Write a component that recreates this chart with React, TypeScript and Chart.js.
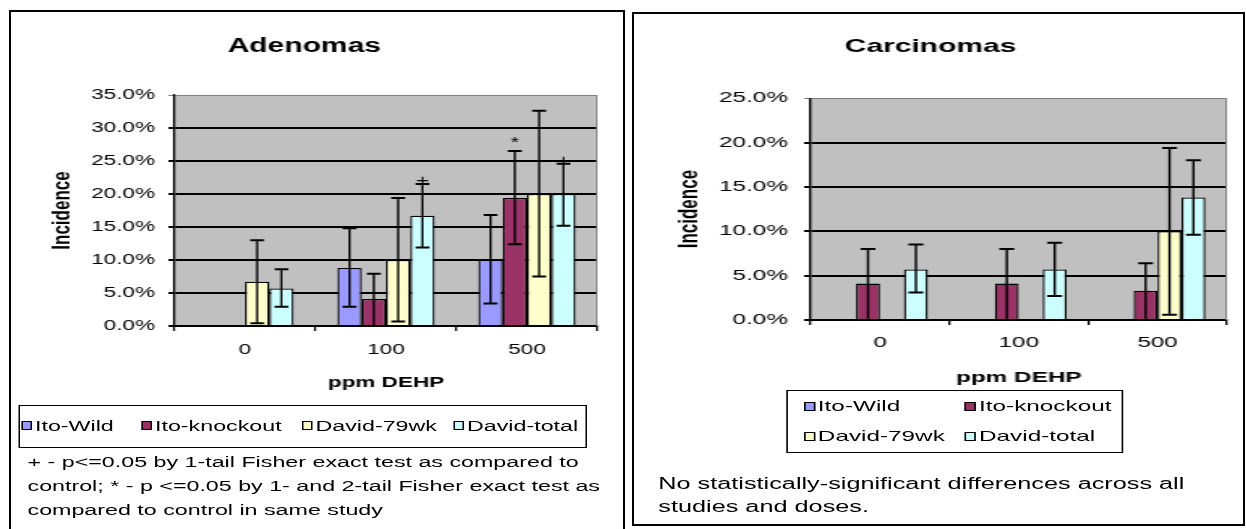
import React, { useEffect, useRef } from 'react';
import { Chart, registerables } from 'chart.js';

Chart.register(...registerables);

// ---------- data ----------
const categories = ['0', '100', '500'];
const seriesNames = ['Ito-Wild', 'Ito-knockout', 'David-79wk', 'David-total'];
const seriesColors = ['#9999FF', '#993366', '#FFFFCC', '#CCFFFF'];

// Adenomas incidence (%)
const adenomaItoWild = [null, 8.8, 10.0];
const adenomaItoKnockout = [null, 4.1, 19.4];
const adenomaDavid79 = [6.7, 10.0, 20.0];
const adenomaDavidTotal = [5.7, 16.7, 20.0];
const adenomaHigh = [
  [null, 14.8, 16.8],
  [null, 7.9, 26.5],
  [13.0, 19.4, 32.6],
  [8.6, 21.5, 24.6],
];
const adenomaLow = [
  [null, 2.9, 3.4],
  [null, 0.0, 12.4],
  [0.4, 0.7, 7.5],
  [2.9, 11.9, 15.2],
];
const adenomaMarks = [
  ['', '', ''],
  ['', '', '*'],
  ['', '', ''],
  ['', '+', '+'],
];
const adenomaTicks = { max: 35, step: 5 };

// Carcinomas incidence (%)
const carcinomaItoWild = [null, null, null];
const carcinomaItoKnockout = [4.1, 4.1, 3.3];
const carcinomaDavid79 = [null, null, 10.0];
const carcinomaDavidTotal = [5.7, 5.7, 13.8];
const carcinomaHigh = [
  [null, null, null],
  [8.0, 8.0, 6.4],
  [null, null, 19.4],
  [8.5, 8.7, 18.0],
];
const carcinomaLow = [
  [null, null, null],
  [0.0, 0.0, 0.0],
  [null, null, 0.6],
  [3.1, 2.7, 9.6],
];
const carcinomaMarks = [
  ['', '', ''],
  ['', '', ''],
  ['', '', ''],
  ['', '', ''],
];
const carcinomaTicks = { max: 25, step: 5 };

const adenomaNote = [
  '+ - p<=0.05 by 1-tail Fisher exact test as compared to',
  'control; * - p <=0.05 by 1- and 2-tail Fisher exact test as',
  'compared to control in same study',
];
const carcinomaNote = [
  'No statistically-significant differences across all',
  'studies and doses.',
];

// ---------- styling ----------
const FONT = '"Liberation Sans", Arial, sans-serif';
const SX_LEFT = 1.5;
const SX_RIGHT = 1.62;

const plotBgPlugin = {
  id: 'plotBg',
  beforeDraw(chart: any) {
    const { ctx, chartArea: a } = chart;
    ctx.save();
    ctx.fillStyle = '#C0C0C0';
    ctx.fillRect(a.left, a.top, a.right - a.left, a.bottom - a.top);
    ctx.restore();
  },
  beforeDatasetsDraw(chart: any) {
    const { ctx, chartArea: a } = chart;
    ctx.save();
    ctx.strokeStyle = '#808080';
    ctx.lineWidth = 1;
    ctx.beginPath();
    ctx.moveTo(a.right - 0.5, a.top);
    ctx.lineTo(a.right - 0.5, a.bottom);
    ctx.stroke();
    ctx.restore();
  },
};

const errorBarPlugin = {
  id: 'errorBars',
  afterDatasetsDraw(chart: any) {
    const { ctx } = chart;
    const ys = chart.scales.y;
    chart.data.datasets.forEach((ds: any, i: number) => {
      const meta = chart.getDatasetMeta(i);
      meta.data.forEach((bar: any, j: number) => {
        if (ds.data[j] == null || ds.errHigh[j] == null) return;
        const x = bar.x;
        const yh = ys.getPixelForValue(ds.errHigh[j]);
        const yl = ys.getPixelForValue(ds.errLow[j]);
        const hw = 4.6;
        ctx.save();
        ctx.strokeStyle = '#000';
        ctx.lineWidth = 1.4;
        ctx.beginPath();
        ctx.moveTo(x, yh);
        ctx.lineTo(x, yl);
        ctx.stroke();
        ctx.lineWidth = 2;
        ctx.beginPath();
        ctx.moveTo(x - hw, yh);
        ctx.lineTo(x + hw, yh);
        ctx.moveTo(x - hw, yl);
        ctx.lineTo(x + hw, yl);
        ctx.stroke();
        const m = ds.marks[j];
        if (m) {
          ctx.fillStyle = '#000';
          ctx.font = `15px ${FONT}`;
          ctx.textAlign = 'center';
          ctx.textBaseline = 'alphabetic';
          ctx.fillText(m, x, m === '*' ? yh - 4 : yh + 1);
        }
        ctx.restore();
      });
    });
  },
};

function makeConfig(p: any) {
  const yMax = p.ticks.max;
  return {
    type: 'bar',
    data: {
      labels: categories,
      datasets: seriesNames.map((name, i) => ({
        label: name,
        data: p.values[i],
        backgroundColor: seriesColors[i],
        borderColor: '#000',
        borderWidth: 1.3,
        categoryPercentage: 0.69,
        barPercentage: 1.0,
        errHigh: p.high[i],
        errLow: p.low[i],
        marks: p.marks[i],
      })),
    },
    options: {
      responsive: false,
      animation: false,
      events: [],
      layout: { padding: { left: 0, top: 0, right: p.rightPad, bottom: 0 } },
      plugins: {
        legend: { display: false },
        tooltip: { enabled: false },
        title: {
          display: true,
          text: p.title,
          color: '#000',
          font: { family: FONT, size: p.titleSize, weight: 'bold', lineHeight: 1.2 },
          padding: { top: p.titleTop, bottom: p.titleBottom },
        },
      },
      scales: {
        x: {
          grid: {
            offset: true,
            drawOnChartArea: false,
            drawTicks: true,
            tickLength: 5,
            color: '#000',
            lineWidth: 1.3,
          },
          border: { display: true, color: '#000', width: 2 },
          ticks: {
            color: '#000',
            font: { family: FONT, size: 15, lineHeight: 1.2 },
            padding: p.xTickPad,
            maxRotation: 0,
          },
          title: {
            display: true,
            text: 'ppm DEHP',
            color: '#000',
            font: { family: FONT, size: 15, weight: 'bold', lineHeight: 1.2 },
            padding: { top: 0, bottom: p.xTitleBottom },
          },
          afterFit: (s: any) => {
            s.height = p.xHeight;
          },
        },
        y: {
          min: 0,
          max: yMax,
          ticks: {
            stepSize: p.ticks.step,
            color: '#000',
            font: { family: FONT, size: 15, lineHeight: 1.2 },
            padding: p.yTickPad,
            callback: (v: any) => Number(v).toFixed(1) + '%',
          },
          grid: {
            color: (c: any) =>
              c.tick && c.tick.value >= yMax - 1e-9 ? '#808080' : '#000',
            lineWidth: (c: any) => (c.tick && c.tick.value >= yMax - 1e-9 ? 1 : 2),
            drawTicks: true,
            tickLength: p.yTickLen,
          },
          border: { display: true, color: '#000', width: 1.4 },
          title: {
            display: true,
            text: 'Incidence',
            color: '#000',
            font: { family: FONT, size: 17, weight: 'bold', lineHeight: 1.2 },
            padding: { top: p.yTitlePad, bottom: 0 },
          },
          afterFit: (s: any) => {
            s.width = p.yWidth;
          },
        },
      },
    },
    plugins: [plotBgPlugin, errorBarPlugin],
  };
}

function ChartBox({ config, width, height }: any) {
  const ref = useRef<HTMLCanvasElement>(null);
  useEffect(() => {
    const chart = new Chart(ref.current as HTMLCanvasElement, config);
    return () => chart.destroy();
  }, []);
  return (
    <canvas
      ref={ref}
      width={width}
      height={height}
      style={{ position: 'absolute', left: 0, top: 0, width, height, display: 'block' }}
    />
  );
}

function Marker({ color }: any) {
  return (
    <span
      style={{
        display: 'inline-block',
        width: 7,
        height: 9,
        boxSizing: 'border-box',
        border: '1px solid #000',
        background: color,
        marginRight: 2,
        verticalAlign: 'middle',
        position: 'relative',
        top: -1,
      }}
    />
  );
}

const adenomaConfig = makeConfig({
  title: 'Adenomas',
  values: [adenomaItoWild, adenomaItoKnockout, adenomaDavid79, adenomaDavidTotal],
  high: adenomaHigh,
  low: adenomaLow,
  marks: adenomaMarks,
  ticks: adenomaTicks,
  rightPad: 17,
  titleSize: 20,
  titleTop: 22,
  titleBottom: 37,
  yWidth: 109,
  yTitlePad: 24,
  yTickPad: 9,
  yTickLen: 4,
  xHeight: 75,
  xTickPad: 10,
  xTitleBottom: 9,
});

const carcinomaConfig = makeConfig({
  title: 'Carcinomas',
  values: [carcinomaItoWild, carcinomaItoKnockout, carcinomaDavid79, carcinomaDavidTotal],
  high: carcinomaHigh,
  low: carcinomaLow,
  marks: carcinomaMarks,
  ticks: carcinomaTicks,
  rightPad: 10,
  titleSize: 18.5,
  titleTop: 22,
  titleBottom: 40,
  yWidth: 109,
  yTitlePad: 24,
  yTickPad: 10,
  yTickLen: 4,
  xHeight: 70,
  xTickPad: 9,
  xTitleBottom: 3,
});

const textStyle: any = { fontFamily: FONT, fontSize: 15, color: '#000', whiteSpace: 'nowrap' };
const leftLegendPos = [1, 81, 188, 289];

export default function App() {
  return (
    <div
      style={{
        position: 'fixed',
        left: 0,
        top: 0,
        width: 1246,
        height: 529,
        background: '#fff',
        overflow: 'hidden',
      }}
    >
      {/* panel borders */}
      <div
        style={{
          position: 'absolute',
          left: 9,
          top: 10,
          width: 616,
          height: 540,
          border: '2px solid #000',
          boxSizing: 'border-box',
        }}
      />
      <div
        style={{
          position: 'absolute',
          left: 632,
          top: 12,
          width: 613,
          height: 514,
          border: '2px solid #000',
          boxSizing: 'border-box',
        }}
      />

      {/* left panel (stretched) */}
      <div
        style={{
          position: 'absolute',
          left: 11,
          top: 12,
          width: 408,
          height: 517,
          transform: `scaleX(${SX_LEFT})`,
          transformOrigin: '0 0',
        }}
      >
        <ChartBox config={adenomaConfig} width={408} height={389} />
        <div
          style={{
            position: 'absolute',
            left: 5,
            top: 393,
            width: 379,
            height: 43,
            border: '1px solid #000',
            boxSizing: 'border-box',
            ...textStyle,
            fontSize: 15.5,
          }}
        >
          {seriesNames.map((n, i) => (
            <div
              key={n}
              style={{ position: 'absolute', left: leftLegendPos[i], top: 10, lineHeight: '20px' }}
            >
              <Marker color={seriesColors[i]} />
              {n}
            </div>
          ))}
        </div>
        <div
          style={{
            position: 'absolute',
            left: 11,
            top: 438,
            lineHeight: '24px',
            ...textStyle,
            fontSize: 15.5,
          }}
        >
          {adenomaNote.map((l) => (
            <div key={l}>{l}</div>
          ))}
        </div>
      </div>

      {/* right panel (stretched) */}
      <div
        style={{
          position: 'absolute',
          left: 634,
          top: 14,
          width: 376,
          height: 510,
          transform: `scaleX(${SX_RIGHT})`,
          transformOrigin: '0 0',
        }}
      >
        <ChartBox config={carcinomaConfig} width={376} height={376} />
        <div
          style={{
            position: 'absolute',
            left: 94,
            top: 376,
            width: 208,
            height: 63,
            border: '1px solid #000',
            boxSizing: 'border-box',
            ...textStyle,
          }}
        >
          {seriesNames.map((n, i) => (
            <div
              key={n}
              style={{
                position: 'absolute',
                left: i % 2 === 0 ? 9.5 : 109,
                top: i < 2 ? 5 : 35,
                lineHeight: '20px',
              }}
            >
              <Marker color={seriesColors[i]} />
              {n}
            </div>
          ))}
        </div>
        <div
          style={{
            position: 'absolute',
            left: 15,
            top: 458,
            lineHeight: '23px',
            ...textStyle,
            fontSize: 15.6,
          }}
        >
          {carcinomaNote.map((l) => (
            <div key={l}>{l}</div>
          ))}
        </div>
      </div>
    </div>
  );
}
